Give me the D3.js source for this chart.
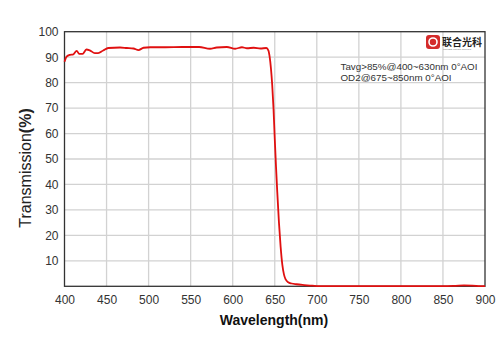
<!DOCTYPE html>
<html>
<head>
<meta charset="utf-8">
<script src="https://cdn.jsdelivr.net/npm/d3@7/dist/d3.min.js"></script>
<style>
  body { margin: 0; background: #fff; }
  svg { display: block; font-family: "Liberation Sans", Arial, sans-serif; }
</style>
</head>
<body>
<svg id="stage" width="500" height="353"></svg>
<script>
var svg = d3.select('#stage'),
    WIDTH = 500,
    HEIGHT = 353,
    LEFT = 64.5,
    RIGHT = 485,
    TOP = 31.7,
    BOTTOM = 286.3;

// measured curve, wavelength (nm) vs transmission (%)
var wavelength = [400, 402.5, 406.5, 410.5, 414.5, 417.5, 421.5, 426, 430, 436, 440, 446,
  452, 466, 474, 482, 488, 494, 502, 520, 540, 560, 573, 581, 593, 603, 611, 617, 625,
  633, 640, 642.5, 644, 645.5, 647, 648.5, 650, 651.5, 653, 655, 657, 659, 661, 663,
  666, 670, 676, 685, 692, 700, 750, 800, 850, 865, 875, 885, 895, 900];
var transmission = [88.2, 90.2, 90.9, 91.1, 92.5, 91.3, 91.3, 93, 92.7, 91.6, 91.6, 92.6,
  93.6, 93.8, 93.6, 93.4, 92.8, 93.7, 93.9, 93.9, 94, 94, 93.3, 93.8, 94, 93.3, 93.9, 93.5, 93.7,
  93.4, 93.6, 92.6, 90, 85.5, 79, 70, 58, 47, 37, 25, 15.5, 8.5, 4.6, 2.7,
  1.6, 1.1, 0.8, 0.5, 0.3, 0.1, 0.05, 0.05, 0.05, 0.2, 0.35, 0.3, 0.1, 0.1];

var xTicks = [400, 450, 500, 550, 600, 650, 700, 750, 800, 850, 900];
var yTicks = [10, 20, 30, 40, 50, 60, 70, 80, 90, 100];
var notes = ['Tavg>85%@400~630nm 0°AOI', 'OD2@675~850nm 0°AOI'];

var x = d3.scaleLinear().domain([400, 900]).range([LEFT, RIGHT]),
    y = d3.scaleLinear().domain([0, 100]).range([BOTTOM, TOP]);

// grid
svg.append('g')
  .selectAll('line')
  .data(xTicks.slice(1, -1))
  .join('line')
    .attr('x1', function (d) { return x(d); })
    .attr('x2', function (d) { return x(d); })
    .attr('y1', TOP)
    .attr('y2', BOTTOM)
    .attr('stroke', '#d2d2d2')
    .attr('stroke-width', 1.3);

svg.append('g')
  .selectAll('line')
  .data(yTicks.slice(0, -1))
  .join('line')
    .attr('x1', LEFT)
    .attr('x2', RIGHT)
    .attr('y1', function (d) { return y(d); })
    .attr('y2', function (d) { return y(d); })
    .attr('stroke', '#d2d2d2')
    .attr('stroke-width', 1.3);

// frame
svg.append('rect')
  .attr('x', LEFT)
  .attr('y', TOP)
  .attr('width', RIGHT - LEFT)
  .attr('height', BOTTOM - TOP)
  .attr('fill', 'none')
  .attr('stroke', '#333')
  .attr('stroke-width', 1.3);

// axes
var xAxis = svg.append('g')
  .attr('transform', 'translate(0,' + BOTTOM + ')')
  .call(d3.axisBottom(x).tickValues(xTicks).tickSize(0).tickPadding(9));

var yAxis = svg.append('g')
  .attr('transform', 'translate(' + LEFT + ',0)')
  .call(d3.axisLeft(y).tickValues(yTicks).tickSize(0).tickPadding(6));

[xAxis, yAxis].forEach(function (a) {
  a.select('.domain').remove();
  a.selectAll('text')
    .attr('fill', '#333')
    .style('font-size', '12px')
    .style('font-family', '"Liberation Sans", Arial, sans-serif');
});

// curve
var line = d3.line()
  .x(function (d) { return x(d[0]); })
  .y(function (d) { return y(d[1]); })
  .curve(d3.curveMonotoneX);

svg.append('path')
  .datum(d3.zip(wavelength, transmission))
  .attr('d', line)
  .attr('fill', 'none')
  .attr('stroke', '#e01010')
  .attr('stroke-width', 1.8)
  .attr('stroke-linejoin', 'round');

// labels
svg.append('text')
  .attr('x', 274)
  .attr('y', 325)
  .attr('text-anchor', 'middle')
  .attr('fill', '#111')
  .style('font-size', '14px')
  .style('font-weight', 'bold')
  .text('Wavelength(nm)');

var yLabel = svg.append('text')
  .attr('transform', 'translate(31,168) rotate(-90)')
  .attr('text-anchor', 'middle')
  .attr('fill', '#222')
  .style('font-size', '16px');
yLabel.append('tspan').text('Transmission');
yLabel.append('tspan').style('font-weight', 'bold').text('(%)');

svg.append('g')
  .selectAll('text')
  .data(notes)
  .join('text')
    .attr('x', 340.5)
    .attr('y', function (d, i) { return 70 + i * 11; })
    .attr('fill', '#333')
    .style('font-size', '9.8px')
    .text(function (d) { return d; });

// logo
var logo = svg.append('g');
logo.append('rect')
  .attr('x', 426).attr('y', 35).attr('width', 14).attr('height', 14)
  .attr('rx', 3).attr('fill', '#d42a2a');
logo.append('circle')
  .attr('cx', 433).attr('cy', 42).attr('r', 4)
  .attr('fill', 'none').attr('stroke', '#fff').attr('stroke-width', 1.6);
logo.append('text')
  .attr('x', 442).attr('y', 46)
  .attr('fill', '#222')
  .style('font-size', '10px')
  .style('font-weight', 'bold')
  .style('font-family', '"Noto Sans CJK SC", sans-serif')
  .text('联合光科');
logo.append('text')
  .attr('x', 443).attr('y', 50)
  .attr('fill', '#777')
  .style('font-size', '2.5px')
  .text('UNITED UNION OPTICS');
</script>
</body>
</html>
